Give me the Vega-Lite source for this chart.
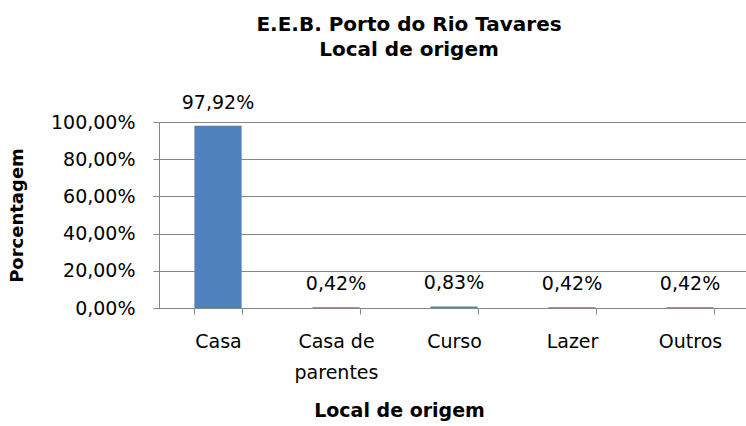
{
  "$schema": "https://vega.github.io/schema/vega-lite/v6.json",
  "width": 590,
  "height": 186,
  "autosize": {"type": "none"},
  "padding": {"left": 159, "top": 122, "right": 0, "bottom": 118},
  "background": "white",
  "config": {
    "locale": {"number": {"decimal": ",", "thousands": ".", "grouping": [3], "currency": ["R$", ""]}},
    "font": "DejaVu Sans",
    "view": {"stroke": null}
  },
  "title": {
    "text": ["E.E.B. Porto do Rio Tavares", "Local de origem"],
    "anchor": "start",
    "frame": "group",
    "dx": 250,
    "offset": 0,
    "fontSize": 20,
    "fontWeight": "bold",
    "color": "black",
    "font": "DejaVu Sans",
    "lineHeight": 25,
    "align": "center",
    "baseline": "top",
    "dy": -34
  },
  "data": {
    "values": [
      {"local": "Casa", "pct": 0.9792},
      {"local": "Casa de parentes", "pct": 0.0042},
      {"local": "Curso", "pct": 0.0083},
      {"local": "Lazer", "pct": 0.0042},
      {"local": "Outros", "pct": 0.0042}
    ]
  },
  "encoding": {
    "x": {
      "field": "local",
      "type": "nominal",
      "sort": null,
      "scale": {"paddingInner": 0.6, "paddingOuter": 0.3},
      "axis": {
        "title": "Local de origem",
        "titleFontSize": 19,
        "titleFontWeight": "bold",
        "titleColor": "black",
        "titleX": 240,
        "titleY": 112,
        "titleBaseline": "bottom",
        "labelAngle": 0,
        "labelFontSize": 19,
        "labelColor": "black",
        "labelPadding": 18,
        "labelExpr": "datum.value == 'Casa de parentes' ? ['Casa de', 'parentes'] : datum.value",
        "labelLineHeight": 31,
        "domainColor": "#868686",
        "tickColor": "#868686",
        "tickBand": "extent",
        "tickSize": 6,
        "grid": false
      }
    },
    "y": {
      "field": "pct",
      "type": "quantitative",
      "scale": {"domain": [0, 1]},
      "axis": {
        "title": "Porcentagem",
        "titleFontSize": 18,
        "titleFontWeight": "bold",
        "titleColor": "black",
        "titlePadding": 24,
        "format": ".2%",
        "values": [0, 0.2, 0.4, 0.6, 0.8, 1],
        "labelFontSize": 19,
        "labelColor": "black",
        "labelPadding": 18,
        "domainColor": "#868686",
        "tickColor": "#868686",
        "tickSize": 6,
        "gridColor": "#868686",
        "gridWidth": 1
      }
    }
  },
  "layer": [
    {"mark": {"type": "bar", "color": "#4F81BD"}},
    {
      "mark": {"type": "text", "fontSize": 19, "color": "black", "baseline": "bottom", "dy": -13},
      "encoding": {"text": {"field": "pct", "type": "quantitative", "format": ".2%"}}
    }
  ]
}
